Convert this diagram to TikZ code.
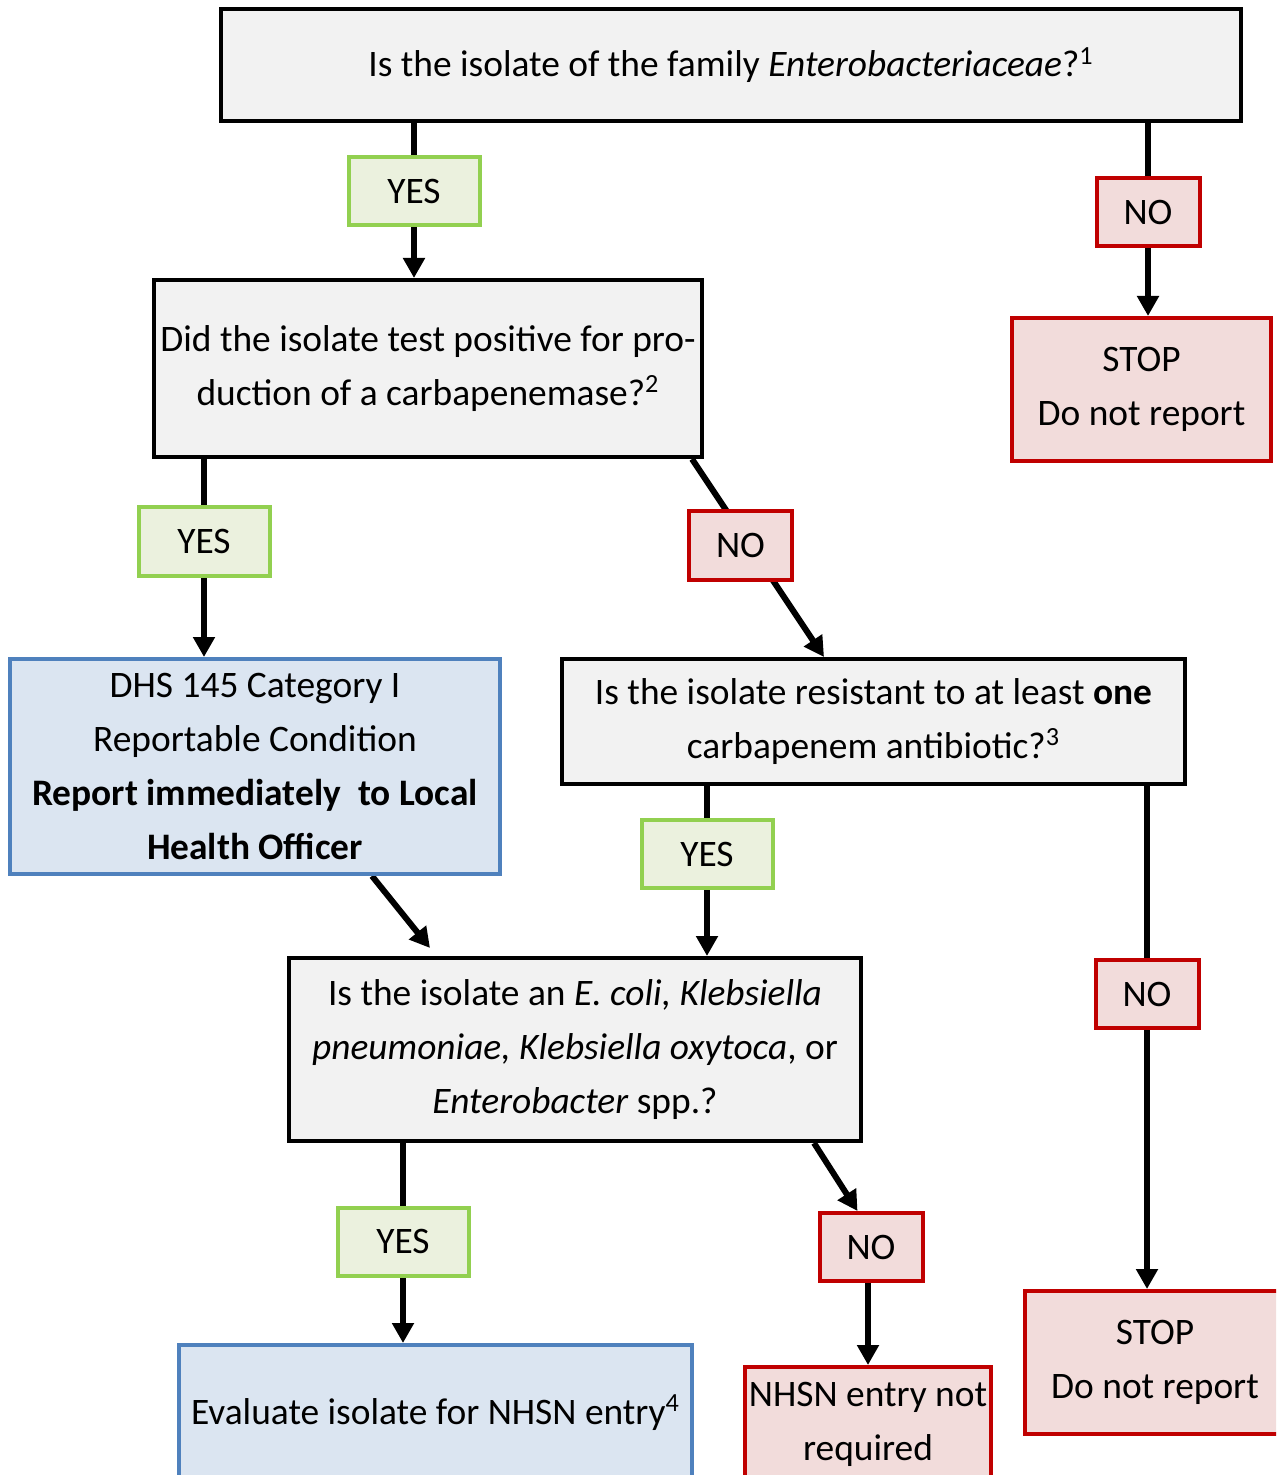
\documentclass[tikz,border=0pt]{standalone}
\usepackage{fontspec}
\setmainfont{Carlito}
\usetikzlibrary{arrows.meta,backgrounds}
\definecolor{qgray}{HTML}{F2F2F2}
\definecolor{yesline}{HTML}{92D050}
\definecolor{yesfill}{HTML}{EBF1DE}
\definecolor{noline}{HTML}{C00000}
\definecolor{nofill}{HTML}{F2DCDB}
\definecolor{repline}{HTML}{4F81BD}
\definecolor{repfill}{HTML}{DBE5F1}
\tikzset{
  box/.style={draw, rectangle, line width=2pt, inner sep=0pt, align=center,
    font=\fontsize{18.7}{27}\selectfont},
  question/.style={box, draw=black, fill=qgray},
  yesbox/.style={box, draw=yesline, fill=yesfill, minimum width=65.5pt, minimum height=34pt},
  nobox/.style={box, draw=noline, fill=nofill, minimum width=51.5pt, minimum height=34pt},
  stopbox/.style={box, draw=noline, fill=nofill},
  reportbox/.style={box, draw=repline, fill=repfill},
  conn/.style={line width=3pt, -{Triangle[width=10.5pt,length=10pt]}}
}
\begin{document}
\begin{tikzpicture}[x=0.5pt,y=-0.5pt]
\useasboundingbox (0,0) rectangle (1276,1475);
\clip (0,0) rectangle (1276,1475);
\node[question, minimum width=510pt, minimum height=56pt] (top) at (731,65) {Is the isolate of the family \textit{Enterobacteriaceae}?\textsuperscript{1}};
\node[yesbox] (yes1) at (414,191) {YES};
\node[nobox] (no1) at (1148,212) {NO};
\node[stopbox, minimum width=129.5pt, minimum height=71.5pt] (stop1) at (1141.5,389.5) {STOP\\Do not report};
\node[question, minimum width=274pt, minimum height=88.5pt] (carba) at (428,368.5) {Did the isolate test positive for pro-\\duction of a carbapenemase?\textsuperscript{2}};
\node[yesbox] (yes2) at (204,541.5) {YES};
\node[nobox] (no2) at (740.5,545.5) {NO};
\node[reportbox, minimum width=245pt, minimum height=107.5pt] (dhs) at (255,766.5) {DHS 145 Category I\\Reportable Condition\\\textbf{Report immediately\ \ to Local}\\\textbf{Health Officer}};
\node[question, minimum width=311.5pt, minimum height=62.5pt] (resist) at (873.5,721.5) {Is the isolate resistant to at least \textbf{one}\\carbapenem antibiotic?\textsuperscript{3}};
\node[yesbox] (yes3) at (707,854) {YES};
\node[nobox] (no3) at (1147,994) {NO};
\node[question, minimum width=286pt, minimum height=91.5pt] (species) at (575,1049.5) {Is the isolate an \textit{E. coli, Klebsiella}\\\textit{pneumoniae, Klebsiella oxytoca}, or\\\textit{Enterobacter} spp.?};
\node[yesbox] (yes4) at (403,1241.5) {YES};
\node[nobox] (no4) at (871,1247) {NO};
\node[reportbox, minimum width=256.5pt, minimum height=67.5pt] (nhsn) at (435.5,1412.5) {Evaluate isolate for NHSN entry\textsuperscript{4}};
\node[stopbox, minimum width=123pt, minimum height=57pt] (noentry) at (868,1424) {NHSN entry not\\required};
\node[stopbox, minimum width=130pt, minimum height=71.5pt] (stop2) at (1155,1362.5) {STOP\\Do not report};
\begin{pgfonlayer}{background}
\path[draw,conn] (top.south -| yes1) -- (yes1 |- carba.north);
\path[draw,conn] (top.south -| no1) -- (no1 |- stop1.north);
\path[draw,conn] (carba.south -| yes2) -- (yes2 |- dhs.north);
\path[draw,conn] ([xshift=-6pt]carba.south east) -- ([xshift=132pt]resist.north west);
\path[draw,conn] ([xshift=182pt]dhs.south west) -- ([xshift=71.5pt,yshift=4pt]species.north west);
\path[draw,conn] (resist.south -| yes3) -- (yes3 |- species.north);
\path[draw,conn] (resist.south -| no3) -- (no3 |- stop2.north);
\path[draw,conn] (species.south -| yes4) -- (yes4 |- nhsn.north);
\path[draw,conn] ([xshift=-24.5pt]species.south east) -- ([xshift=20pt]no4.north west);
\path[draw,conn] ([xshift=-1.5pt]no4.south) -- ([xshift=-1.5pt]no4.south |- noentry.north);
\end{pgfonlayer}
\end{tikzpicture}
\end{document}
